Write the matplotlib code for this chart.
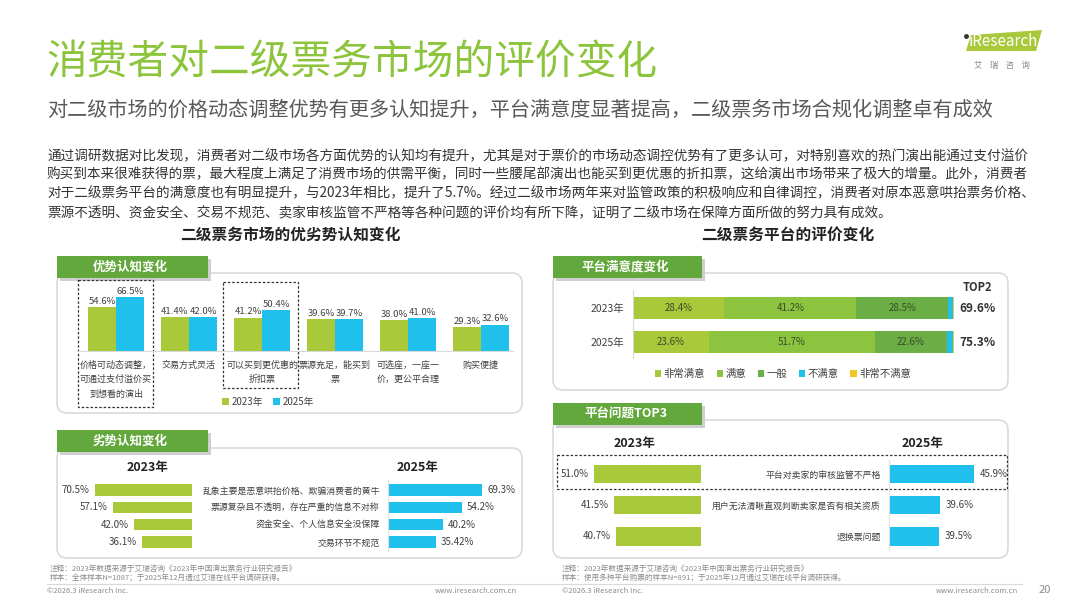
import numpy as np
import matplotlib
matplotlib.use('Agg')
import matplotlib.pyplot as plt
from matplotlib.patches import FancyBboxPatch, Rectangle, Polygon

plt.rcParams['font.family'] = ['Noto Sans CJK SC', 'DejaVu Sans']

W, H = 1080, 608

# ---- data ----
adv_labels = ['价格可动态调整，\n可通过支付溢价买\n到想看的演出', '交易方式灵活', '可以买到更优惠的\n折扣票',
              '票源充足，能买到\n票', '可选座，一座一\n价，更公平合理', '购买便捷']
adv_2023 = [54.6, 41.4, 41.2, 39.6, 38.0, 29.3]
adv_2025 = [66.5, 42.0, 50.4, 39.7, 41.0, 32.6]

dis_labels = ['乱象主要是恶意哄抬价格、欺骗消费者的黄牛', '票源复杂且不透明，存在严重的信息不对称',
              '资金安全、个人信息安全没保障', '交易环节不规范']
dis_2023 = [70.5, 57.1, 42.0, 36.1]
dis_2025 = [69.3, 54.2, 40.2, 35.42]

years = ['2023年', '2025年']
sat_levels = ['非常满意', '满意', '一般', '不满意', '非常不满意']
sat_2023 = [28.4, 41.2, 28.5, 1.7, 0.2]
sat_2025 = [23.6, 51.7, 22.6, 1.9, 0.2]
top2 = [69.6, 75.3]

issue_labels = ['平台对卖家的审核监管不严格', '用户无法清晰直观判断卖家是否有相关资质', '退换票问题']
issue_2023 = [51.0, 41.5, 40.7]
issue_2025 = [45.9, 39.6, 39.5]

intro = [
    '通过调研数据对比发现，消费者对二级市场各方面优势的认知均有提升，尤其是对于票价的市场动态调控优势有了更多认可，对特别喜欢的热门演出能通过支付溢价',
    '购买到本来很难获得的票，最大程度上满足了消费市场的供需平衡，同时一些腰尾部演出也能买到更优惠的折扣票，这给演出市场带来了极大的增量。此外，消费者',
    '对于二级票务平台的满意度也有明显提升，与2023年相比，提升了5.7%。经过二级市场两年来对监管政策的积极响应和自律调控，消费者对原本恶意哄抬票务价格、',
    '票源不透明、资金安全、交易不规范、卖家审核监管不严格等各种问题的评价均有所下降，证明了二级市场在保障方面所做的努力具有成效。',
]

C23 = '#A9C83A'
C25 = '#1FC0EC'
TAB = '#62A83C'
TXT = '#404040'
sat_colors = ['#A9C83A', '#8CC43F', '#6AAE45', '#1FC0EC', '#F3C623']

fig = plt.figure(figsize=(10.8, 6.08), dpi=100)
bg = fig.add_axes([0, 0, 1, 1], zorder=0)
bg.set_xlim(0, W)
bg.set_ylim(H, 0)
bg.axis('off')


def px_axes(x0, y0, x1, y1):
    ax = fig.add_axes([x0 / W, 1 - y1 / H, (x1 - x0) / W, (y1 - y0) / H], zorder=2)
    ax.patch.set_alpha(0)
    for s in ax.spines.values():
        s.set_visible(False)
    return ax


def panel(x0, y0, x1, y1):
    bg.add_patch(FancyBboxPatch((x0, y0), x1 - x0, y1 - y0,
                                boxstyle='round,pad=0,rounding_size=10',
                                fc='white', ec='#DADADA', lw=1.2))


def tab(x0, y0, x1, y1, text):
    bg.add_patch(Rectangle((x0 + 3, y0 + 3), x1 - x0, y1 - y0, fc='#CFCFCF', ec='none'))
    bg.add_patch(Rectangle((x0, y0), x1 - x0, y1 - y0, fc=TAB, ec='none'))
    bg.text((x0 + x1) / 2 - 2, (y0 + y1) / 2, text, color='white', fontsize=9,
            weight='bold', ha='center', va='center')


# ---- header ----
bg.text(46, 62, '消费者对二级票务市场的评价变化', fontsize=29.3, color='#8CC43C', va='center')
bg.text(47, 110, '对二级市场的价格动态调整优势有更多认知提升，平台满意度显著提高，二级票务市场合规化调整卓有成效',
        fontsize=14.5, color='#595959', va='center')
for k, line in enumerate(intro):
    bg.text(47, 156 + 18.7 * k, line, fontsize=9.8, color='#333333', va='center')

# logo
bg.add_patch(Polygon([(966, 51), (971, 35), (1042, 30), (1036, 51)], closed=True,
                     fc='#A9C83A', ec='none'))
bg.plot([965.5], [35.5], marker='o', ms=2.5, color='#333333')
bg.text(1003, 42, 'iResearch', fontsize=11, color='white', ha='center', va='center')
bg.text(1002, 65, '艾    瑞    咨    询', fontsize=6, color='#8A8A8A', ha='center', va='center')

bg.text(290, 235, '二级票务市场的优劣势认知变化', fontsize=11.3, weight='bold', color='#222222',
        ha='center', va='center')
bg.text(788, 235, '二级票务平台的评价变化', fontsize=11.3, weight='bold', color='#222222',
        ha='center', va='center')

# ---- panels ----
panel(57, 273, 522, 413)
tab(57, 256, 208, 278, '优势认知变化')
panel(57, 448, 522, 558)
tab(57, 430, 208, 452, '劣势认知变化')
panel(553, 273, 1008, 390)
tab(553, 256, 702, 278, '平台满意度变化')
panel(553, 420, 1008, 558)
tab(553, 403, 702, 425, '平台问题TOP3')

# ---- advantages grouped bars ----
ax1 = px_axes(77, 280, 513, 351)
x = np.arange(len(adv_labels))
ax1.bar(x - 0.192, adv_2023, 0.384, color=C23, label='2023年')
ax1.bar(x + 0.192, adv_2025, 0.384, color=C25, label='2025年')
ax1.set_xlim(-0.534, 5.438)
ax1.set_ylim(0, 71 / 0.81)
ax1.spines['bottom'].set_visible(True)
ax1.spines['bottom'].set_color('#D9D9D9')
ax1.set_yticks([])
ax1.set_xticks(x, adv_labels, fontsize=6.5, color=TXT, linespacing=1.75)
ax1.tick_params(axis='x', length=0, pad=7)
for xi, v in zip(x - 0.192, adv_2023):
    ax1.text(xi, v + 1.5, f'{v}%', ha='center', va='bottom', fontsize=6.8, color=TXT)
for xi, v in zip(x + 0.192, adv_2025):
    ax1.text(xi, v + 1.5, f'{v}%', ha='center', va='bottom', fontsize=6.8, color=TXT)
ax1.legend(loc='center', bbox_to_anchor=(268 / W, 1 - 402 / H), bbox_transform=fig.transFigure,
           ncol=2, frameon=False, fontsize=7, handlelength=0.7, handleheight=0.7,
           handletextpad=0.3, columnspacing=1.0, labelcolor=TXT)
dash = (0, (2, 1.5))
bg.add_patch(Rectangle((78, 280), 75, 127, fill=False, ls=dash, ec='#333333', lw=0.9))
bg.add_patch(Rectangle((223, 282), 75, 106, fill=False, ls=dash, ec='#333333', lw=0.9))

# ---- disadvantages butterfly ----
bg.text(148, 468, '2023年', fontsize=9, weight='bold', color='#222222', ha='center', va='center')
bg.text(418, 468, '2025年', fontsize=9, weight='bold', color='#222222', ha='center', va='center')
rows = np.arange(len(dis_labels))
ax2 = px_axes(60, 480, 192, 552)
ax2.barh(rows, dis_2023, height=0.66, color=C23)
ax2.set_xlim(132 / 1.376, 0)
ax2.set_ylim(3.58, -0.578)
ax2.set_xticks([])
ax2.set_yticks([])
ax2.axvline(0, color='#E0E0E0', lw=0.8)
for r, v in zip(rows, dis_2023):
    ax2.text(v + 4.2, r, f'{v}%', ha='right', va='center', fontsize=7, color=TXT)

ax3 = px_axes(388, 480, 515, 552)
ax3.barh(rows, dis_2025, height=0.66, color=C25)
ax3.set_xlim(0, 127 / 1.36)
ax3.set_ylim(3.58, -0.578)
ax3.set_xticks([])
ax3.set_yticks(rows, dis_labels, fontsize=6.4, color=TXT)
ax3.tick_params(axis='y', length=0, pad=6)
ax3.axvline(0, color='#E0E0E0', lw=0.8)
for r, v in zip(rows, dis_2025):
    ax3.text(v + 3.5, r, f'{v}%', ha='left', va='center', fontsize=7, color=TXT)

# ---- satisfaction stacked bars ----
ax4 = px_axes(633, 290, 954, 358)
ylev = np.arange(len(years))
for i, vals in enumerate([sat_2023, sat_2025]):
    left = 0
    for j, v in enumerate(vals):
        ax4.barh(ylev[i], v, left=left, height=0.62, color=sat_colors[j],
                 label=sat_levels[j] if i == 0 else None)
        if v > 5:
            ax4.text(left + v / 2, ylev[i], f'{v}%', ha='center', va='center', fontsize=7, color='#3A4A2A')
        left += v
ax4.set_xlim(0, 100)
ax4.set_ylim(1.47, -0.53)
ax4.set_xticks([])
ax4.spines['left'].set_visible(True)
ax4.spines['left'].set_color('#D9D9D9')
ax4.set_yticks(ylev, years, fontsize=7.5, color=TXT)
ax4.tick_params(axis='y', length=0, pad=6)
ax4.text(107.2, -0.6, 'TOP2', ha='center', va='center', fontsize=8, weight='bold', color='#333333')
for i, t in enumerate(top2):
    ax4.text(107.2, ylev[i], f'{t}%', ha='center', va='center', fontsize=8.5, weight='bold',
             color='#333333', clip_on=False)
ax4.legend(loc='center', bbox_to_anchor=(783 / W, 1 - 374 / H), bbox_transform=fig.transFigure,
           ncol=5, frameon=False, fontsize=7.5, handlelength=0.6, handleheight=0.6,
           handletextpad=0.25, columnspacing=1.1, labelcolor=TXT)

# ---- platform issues ----
bg.text(635, 443, '2023年', fontsize=9, weight='bold', color='#222222', ha='center', va='center')
bg.text(923, 443, '2025年', fontsize=9, weight='bold', color='#222222', ha='center', va='center')
irows = np.arange(len(issue_labels))
ax5 = px_axes(565, 460, 701, 550)
ax5.barh(irows, issue_2023, height=0.61, color=C23)
ax5.set_xlim(136 / 2.1, 0)
ax5.set_ylim(2.45, -0.45)
ax5.set_xticks([])
ax5.set_yticks([])
ax5.axvline(0, color='#E0E0E0', lw=0.8)
for r, v in zip(irows, issue_2023):
    ax5.text(v + 2.4, r, f'{v}%', ha='right', va='center', fontsize=7, color=TXT)

ax6 = px_axes(889, 460, 1000, 550)
ax6.barh(irows, issue_2025, height=0.61, color=C25)
ax6.set_xlim(30.2, 30.2 + 111 / 5.4)
ax6.set_ylim(2.45, -0.45)
ax6.set_xticks([])
ax6.set_yticks(irows, issue_labels, fontsize=6.4, color=TXT)
ax6.tick_params(axis='y', length=0, pad=6)
ax6.spines['left'].set_visible(True)
ax6.spines['left'].set_color('#E0E0E0')
for r, v in zip(irows, issue_2025):
    ax6.text(v + 1.1, r, f'{v}%', ha='left', va='center', fontsize=7, color=TXT, clip_on=False)
bg.add_patch(Rectangle((557, 455), 450, 34, fill=False, ls=dash, ec='#333333', lw=0.9))

# ---- footer ----
foot = '#8C8C8C'
bg.text(50, 569, '注释：2023年数据来源于艾瑞咨询《2023年中国演出票务行业研究报告》', fontsize=5.5, color=foot, va='center')
bg.text(50, 578, '样本：全体样本N=1087；于2025年12月通过艾瑞在线平台调研获得。', fontsize=5.5, color=foot, va='center')
bg.text(562, 569, '注释：2023年数据来源于艾瑞咨询《2023年中国演出票务行业研究报告》', fontsize=5.5, color=foot, va='center')
bg.text(562, 578, '样本：使用多种平台购票的样本N=891；于2025年12月通过艾瑞在线平台调研获得。', fontsize=5.5, color=foot, va='center')
bg.plot([47, 1022], [584, 584], color='#D9D9D9', lw=0.8)
bg.text(47, 591, '©2026.3 iResearch Inc.', fontsize=5.5, color=foot, va='center')
bg.text(517, 591, 'www.iresearch.com.cn', fontsize=5.5, color=foot, va='center', ha='right')
bg.text(562, 591, '©2026.3 iResearch Inc.', fontsize=5.5, color=foot, va='center')
bg.text(1018, 591, 'www.iresearch.com.cn', fontsize=5.5, color=foot, va='center', ha='right')
bg.text(1045, 590, '20', fontsize=8, color='#8C8C8C', va='center', ha='center')

fig.savefig('out.png', dpi=100, facecolor='white')
